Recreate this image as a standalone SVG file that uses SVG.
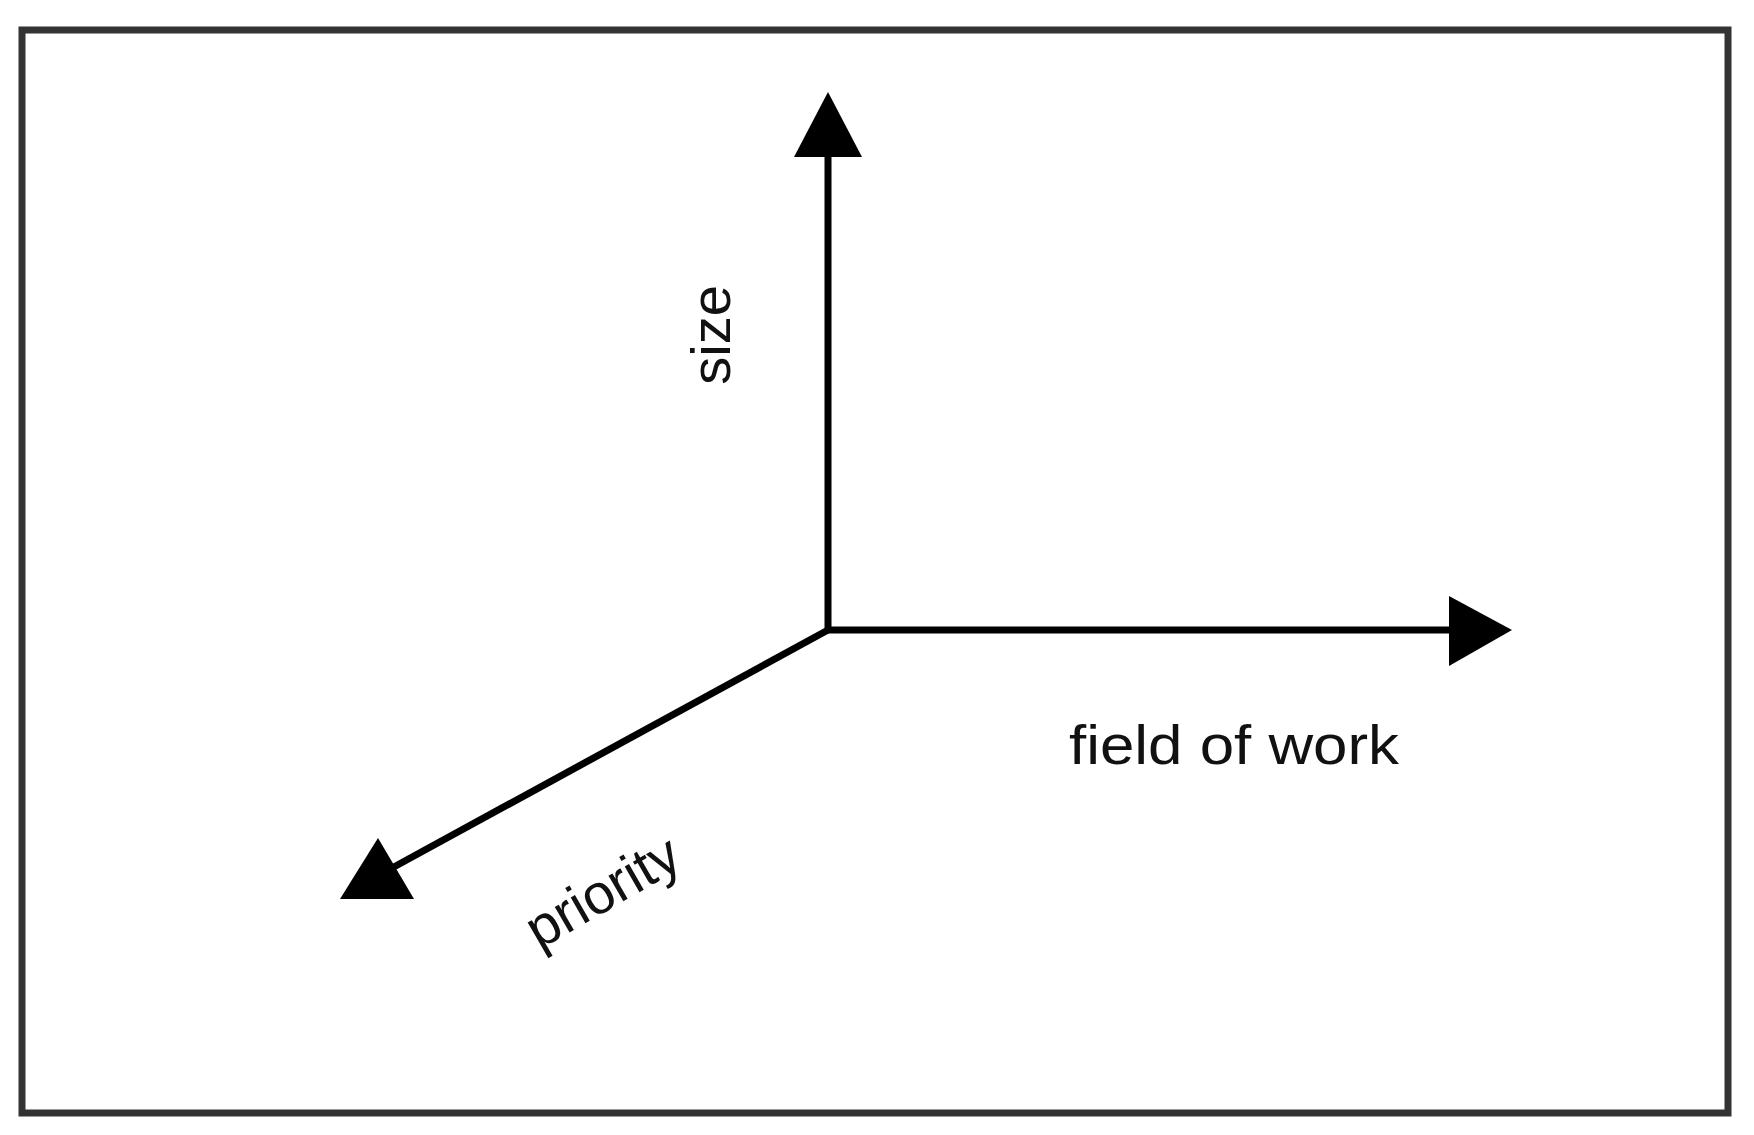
<svg xmlns="http://www.w3.org/2000/svg" width="1754" height="1135" viewBox="0 0 1754 1135">
<style>
.ax{stroke:#000;stroke-width:7;fill:none}
.hd{fill:#000}
.lb{font-family:"Liberation Sans",Arial,sans-serif;font-size:56px;fill:#111}
</style>
<rect x="0" y="0" width="1754" height="1135" fill="#fff"/>
<g id="frame"><rect x="22" y="30" width="1706" height="1083" fill="#fff" stroke="#333" stroke-width="7"/></g>
<g id="connectors">
<line class="ax" x1="828" y1="633" x2="828" y2="150"/>
<polygon class="hd" points="828,92 794,157 862,157"/>
<line class="ax" x1="825" y1="630" x2="1455" y2="630"/>
<polygon class="hd" points="1512,630 1449,596 1449,666"/>
<line class="ax" x1="828" y1="630" x2="392" y2="868"/>
<polygon class="hd" points="378,838 340,899 414,899"/>
</g>
<g id="label-size"><text class="lb" transform="translate(730,335) rotate(-90)" text-anchor="middle">size</text></g>
<g id="label-field"><text class="lb" x="1069" y="764" textLength="330" lengthAdjust="spacingAndGlyphs">field of work</text></g>
<g id="label-priority"><text class="lb" transform="translate(612,908) rotate(-30)" text-anchor="middle">priority</text></g>
</svg>
